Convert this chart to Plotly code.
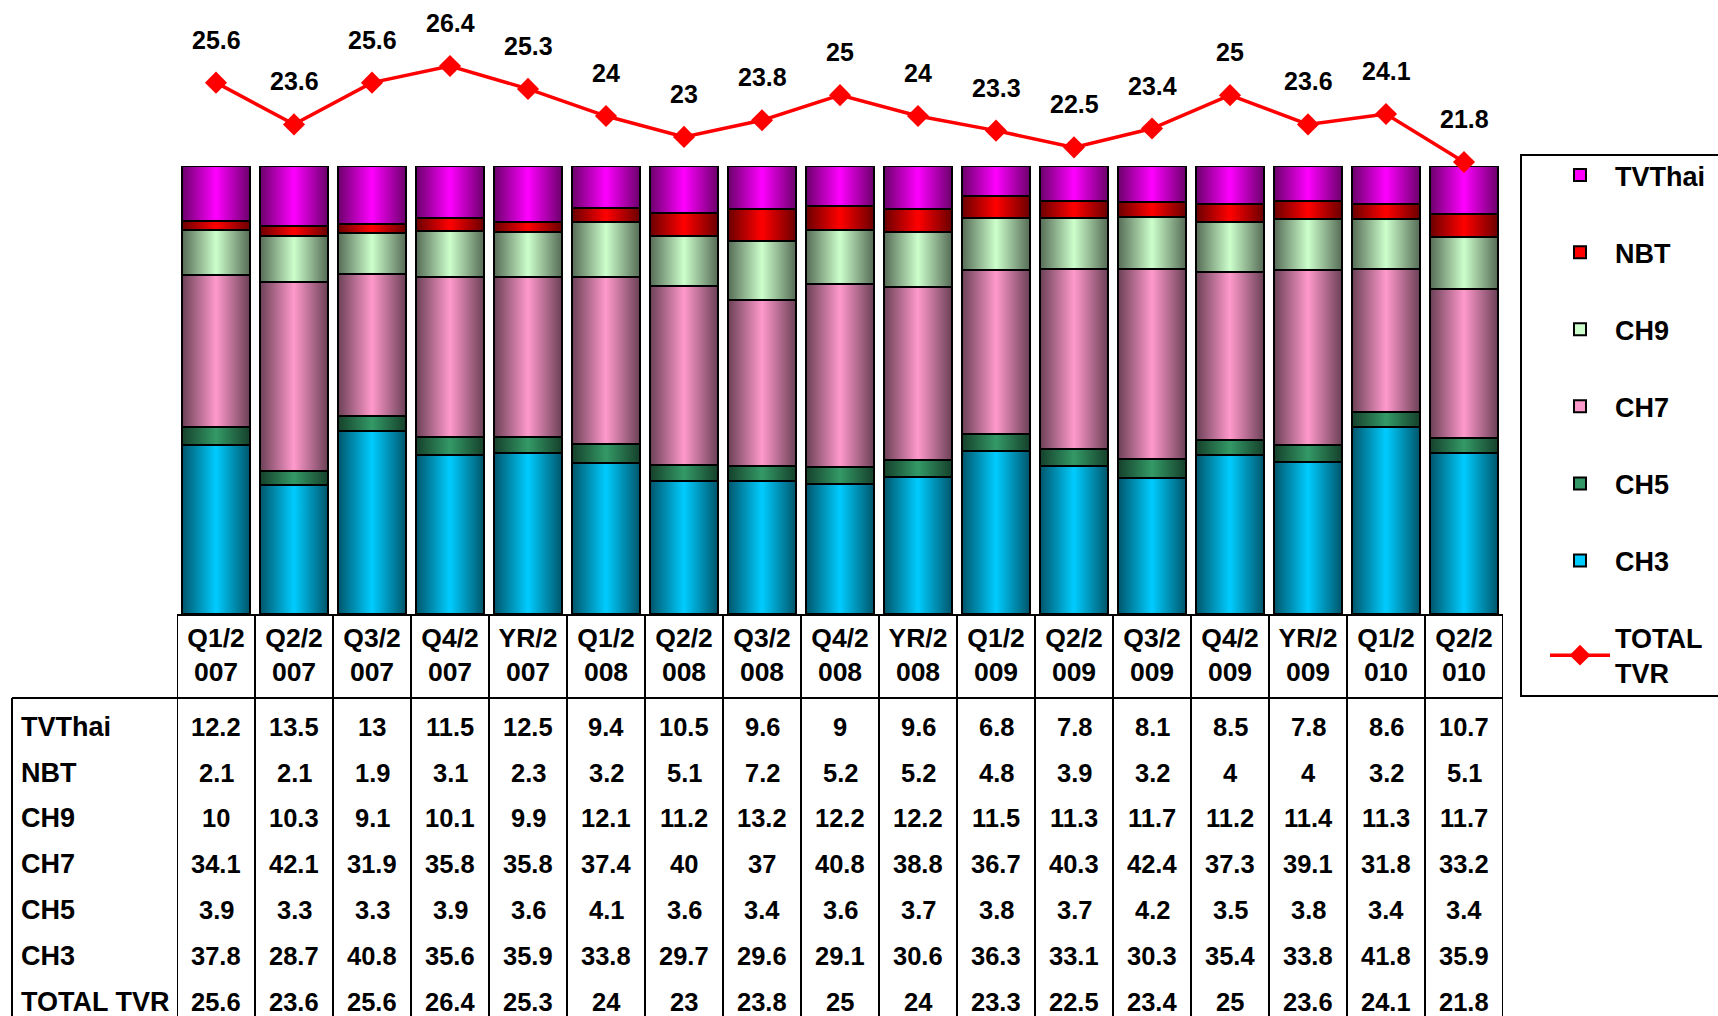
import plotly.graph_objects as go

# ---------------- data ----------------
categories = ["Q1/2007", "Q2/2007", "Q3/2007", "Q4/2007", "YR/2007",
              "Q1/2008", "Q2/2008", "Q3/2008", "Q4/2008", "YR/2008",
              "Q1/2009", "Q2/2009", "Q3/2009", "Q4/2009", "YR/2009",
              "Q1/2010", "Q2/2010"]
tvthai = [12.2, 13.5, 13, 11.5, 12.5, 9.4, 10.5, 9.6, 9, 9.6, 6.8, 7.8, 8.1, 8.5, 7.8, 8.6, 10.7]
nbt = [2.1, 2.1, 1.9, 3.1, 2.3, 3.2, 5.1, 7.2, 5.2, 5.2, 4.8, 3.9, 3.2, 4, 4, 3.2, 5.1]
ch9 = [10, 10.3, 9.1, 10.1, 9.9, 12.1, 11.2, 13.2, 12.2, 12.2, 11.5, 11.3, 11.7, 11.2, 11.4, 11.3, 11.7]
ch7 = [34.1, 42.1, 31.9, 35.8, 35.8, 37.4, 40, 37, 40.8, 38.8, 36.7, 40.3, 42.4, 37.3, 39.1, 31.8, 33.2]
ch5 = [3.9, 3.3, 3.3, 3.9, 3.6, 4.1, 3.6, 3.4, 3.6, 3.7, 3.8, 3.7, 4.2, 3.5, 3.8, 3.4, 3.4]
ch3 = [37.8, 28.7, 40.8, 35.6, 35.9, 33.8, 29.7, 29.6, 29.1, 30.6, 36.3, 33.1, 30.3, 35.4, 33.8, 41.8, 35.9]
total_tvr = [25.6, 23.6, 25.6, 26.4, 25.3, 24, 23, 23.8, 25, 24, 23.3, 22.5, 23.4, 25, 23.6, 24.1, 21.8]

series_names = ["CH3", "CH5", "CH7", "CH9", "NBT", "TVThai"]          # stack order bottom -> top
series_values = [ch3, ch5, ch7, ch9, nbt, tvthai]
series_colors = ["#00CCFF", "#339966", "#FF99CC", "#CCFFCC", "#FF0000", "#FF00FF"]
table_rows = ["TVThai", "NBT", "CH9", "CH7", "CH5", "CH3", "TOTAL TVR"]
table_values = [tvthai, nbt, ch9, ch7, ch5, ch3, total_tvr]

# ---------------- layout constants ----------------
W, H = 1718, 1016
FONT = "Liberation Sans, Arial, sans-serif"
BARGAP = 0.128
xs = list(range(len(categories)))

def px_x(p):
    return p / W

def px_y(p):
    return 1 - p / H

def bold(size):
    return dict(family=FONT, size=size, color="black", weight="bold")

fig = go.Figure()

# stacked bars
for name, vals, col in zip(series_names, series_values, series_colors):
    rank = {"TVThai": 1, "NBT": 2, "CH9": 3, "CH7": 4, "CH5": 5, "CH3": 6}[name]
    fig.add_trace(go.Bar(
        x=xs, y=vals, name=name, legendgroup=name, legendrank=rank,
        marker=dict(color=col, line=dict(color="black", width=2)),
        customdata=categories,
        hovertemplate="%{customdata}<br>" + name + ": %{y}<extra></extra>",
    ))

# cylinder-like shading overlay on each bar (dark edges, bright centre)
half = (1 - BARGAP) / 2
for i in xs:
    fig.add_trace(go.Scatter(
        x=[i - half, i + half, i + half, i - half, i - half],
        y=[0, 0, 100, 100, 0],
        mode="lines", fill="toself", line=dict(width=0),
        fillgradient=dict(type="horizontal",
                          colorscale=[[0, "rgba(0,0,0,0.58)"], [0.5, "rgba(0,0,0,0)"],
                                      [1, "rgba(0,0,0,0.58)"]]),
        hoverinfo="skip", showlegend=False,
    ))

# total TVR line
fig.add_trace(go.Scatter(
    x=xs, y=total_tvr, name="TOTAL<br>TVR", legendgroup="TOTAL", legendrank=7,
    xaxis="x", yaxis="y2", mode="lines+markers",
    line=dict(color="#FF0000", width=3.5),
    marker=dict(symbol="diamond", size=17, color="#FF0000"),
    customdata=categories,
    hovertemplate="%{customdata}<br>TOTAL TVR: %{y}<extra></extra>",
))

annotations = []
# data labels above the line
for i, v in zip(xs, total_tvr):
    annotations.append(dict(x=i, y=v, xref="x", yref="y2", yshift=43, text=f"{v:g}",
                            showarrow=False, font=bold(25)))

# data table
row_y = [727, 773, 818, 864, 910, 956, 1002]
for rname, vals, yc in zip(table_rows, table_values, row_y):
    annotations.append(dict(x=px_x(19), y=px_y(yc), xref="paper", yref="paper", xanchor="left",
                            yanchor="middle", text=rname, showarrow=False, font=bold(27)))
    for i, v in zip(xs, vals):
        annotations.append(dict(x=i, y=px_y(yc), xref="x", yref="paper", yanchor="middle",
                                text=f"{v:g}", showarrow=False, font=bold(25.5)))

shapes = []
LW = 2
header_top = px_y(615)
data_top = px_y(698)
for i in range(len(categories) + 1):
    shapes.append(dict(type="line", xref="x", yref="paper", x0=i - 0.5, x1=i - 0.5,
                       y0=-0.02, y1=header_top, line=dict(color="black", width=LW)))
shapes.append(dict(type="line", xref="x", yref="paper", x0=-0.5, x1=len(categories) - 0.5,
                   y0=header_top, y1=header_top, line=dict(color="black", width=LW)))
shapes.append(dict(type="line", xref="paper", yref="paper", x0=px_x(12), x1=px_x(1503),
                   y0=data_top, y1=data_top, line=dict(color="black", width=LW)))
shapes.append(dict(type="line", xref="paper", yref="paper", x0=px_x(12), x1=px_x(12),
                   y0=-0.02, y1=data_top, line=dict(color="black", width=LW)))
# legend frame
shapes.append(dict(type="rect", xref="paper", yref="paper", x0=px_x(1521), x1=1.02,
                   y0=px_y(696), y1=px_y(155), line=dict(color="black", width=LW)))

fig.update_layout(
    width=W, height=H,
    margin=dict(l=0, r=0, t=0, b=0, autoexpand=False),
    paper_bgcolor="white", plot_bgcolor="rgba(0,0,0,0)",
    barmode="stack", barnorm="percent", bargap=BARGAP,
    font=dict(family=FONT, color="black", weight="bold"),
    xaxis=dict(domain=[px_x(177), px_x(1503)], range=[-0.5, len(categories) - 0.5],
               tickvals=xs, ticktext=[c[:4] + "<br>" + c[4:] for c in categories],
               tickfont=bold(26.5), ticklabelstandoff=5,
               ticks="", showgrid=False, zeroline=False, showline=False, fixedrange=True),
    yaxis=dict(domain=[px_y(614), px_y(166)], range=[0, 100], visible=False, fixedrange=True),
    yaxis2=dict(domain=[0, 1], range=[-19.12, 29.56], anchor="x", visible=False, fixedrange=True),
    showlegend=True,
    legend=dict(x=px_x(1545), y=px_y(151), xanchor="left", yanchor="top",
                bgcolor="rgba(0,0,0,0)", borderwidth=0, traceorder="grouped",
                tracegroupgap=39, itemwidth=60, font=bold(27)),
    annotations=annotations,
    shapes=shapes,
)

fig.write_html("out.html", config={"displayModeBar": False})
